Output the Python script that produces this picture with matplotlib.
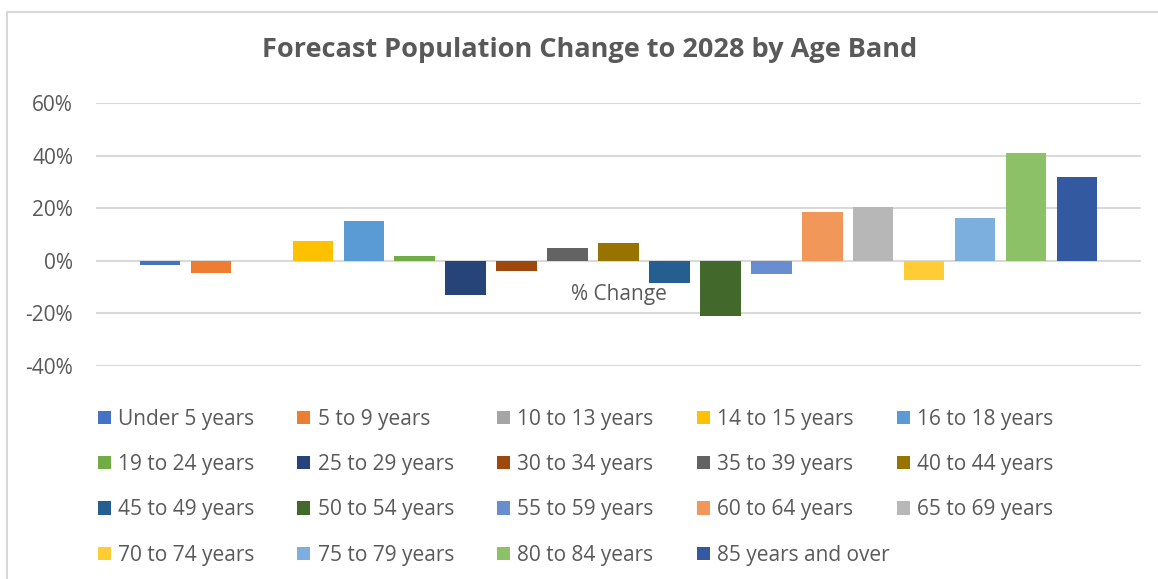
import matplotlib
matplotlib.use("Agg")
from matplotlib import pyplot as plt
from matplotlib.patches import Rectangle
from matplotlib.ticker import FuncFormatter

plt.rcParams["font.family"] = ["Open Sans", "DejaVu Sans"]

# data (percent change to 2028)
age_bands = [
    "Under 5 years", "5 to 9 years", "10 to 13 years", "14 to 15 years",
    "16 to 18 years", "19 to 24 years", "25 to 29 years", "30 to 34 years",
    "35 to 39 years", "40 to 44 years", "45 to 49 years", "50 to 54 years",
    "55 to 59 years", "60 to 64 years", "65 to 69 years", "70 to 74 years",
    "75 to 79 years", "80 to 84 years", "85 years and over",
]
pct_change = [
    -1.5, -4.6, 0.0, 7.5, 15.2, 1.8, -13.1, -3.9, 4.8, 6.8,
    -8.4, -21.0, -5.0, 18.6, 20.5, -7.3, 16.3, 41.1, 32.0,
]
bar_colors = [
    "#4472C4", "#ED7D31", "#A5A5A5", "#FFC000", "#5B9BD5", "#70AD47",
    "#264478", "#9E480E", "#636363", "#997300", "#255E91", "#43682B",
    "#698ED0", "#F1975A", "#B7B7B7", "#FFCD33", "#7CAFDD", "#8CC168",
    "#335AA1",
]
category = "% Change"
y_ticks = [-40, -20, 0, 20, 40, 60]

text_col = "#595959"
grid_col = "#D9D9D9"

fig = plt.figure(figsize=(11.58, 5.79), dpi=100)
ax = fig.add_axes([96 / 1158, 1 - 365.7 / 579, 1045 / 1158, 262.4 / 579])

bars = []
for i, (label, val, col) in enumerate(zip(age_bands, pct_change, bar_colors)):
    b = ax.bar(i, val, width=0.795, color=col, label=label, zorder=3)
    bars.append(b)

ax.set_xlim(-1.256, len(age_bands) - 1 + 1.256)
ax.set_ylim(y_ticks[0], y_ticks[-1])
ax.set_yticks(y_ticks)
ax.yaxis.set_major_formatter(FuncFormatter(lambda v, p: f"{v:.0f}%"))
ax.set_xticks([])
ax.tick_params(axis="y", length=0, pad=16.5, labelsize=15, labelcolor=text_col)
ax.grid(axis="y", color=grid_col, linewidth=1.5, zorder=0)
for s in ax.spines.values():
    s.set_visible(False)

# category label sits just under the zero line, centred on the plot
ax.annotate(category, xy=(0.5, 0), xycoords=("axes fraction", "data"),
            xytext=(0, -24), textcoords="offset points",
            ha="center", va="center", fontsize=15, color=text_col)

fig.text(590 / 1158, 1 - 50 / 579, "Forecast Population Change to 2028 by Age Band",
         ha="center", va="center", fontsize=19.5, fontweight="bold", color=text_col)

# legend: 5 evenly spaced columns read row by row, one legend per column
ncol = 5
for c in range(ncol):
    idx = [c + ncol * r for r in range(4) if c + ncol * r < len(age_bands)]
    fig.legend(handles=[bars[k] for k in idx], labels=[age_bands[k] for k in idx],
               loc="upper left", bbox_to_anchor=((81 + 199.75 * c) / 1158, 1 - 392 / 579),
               frameon=False, fontsize=15, labelcolor=text_col,
               handlelength=0.62, handleheight=0.62, handletextpad=0.35,
               labelspacing=1.17, borderpad=0.3)

# chart area border (only top and left edges are inside the picture)
fig.patches.append(Rectangle((7.5 / 1158, -0.1), 1.2, 1 - 11.5 / 579 + 0.1,
                             transform=fig.transFigure, fill=False,
                             edgecolor=grid_col, linewidth=1.5))

fig.savefig("out.png", dpi=100)
